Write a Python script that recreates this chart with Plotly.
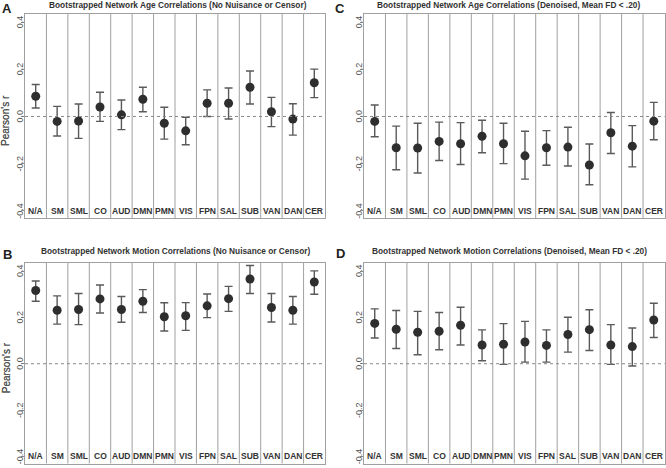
import plotly.graph_objects as go

categories = ["N/A", "SM", "SML", "CO", "AUD", "DMN", "PMN", "VIS", "FPN", "SAL", "SUB", "VAN", "DAN", "CER"]

# Panel A: Age correlations (No Nuisance or Censor)
a_val = [0.086, -0.021, -0.019, 0.040, 0.007, 0.073, -0.029, -0.061, 0.056, 0.056, 0.124, 0.020, -0.011, 0.143]
a_hi  = [0.136, 0.043, 0.053, 0.103, 0.070, 0.124, 0.039, -0.003, 0.113, 0.121, 0.193, 0.081, 0.054, 0.201]
a_lo  = [0.036, -0.083, -0.093, -0.021, -0.056, 0.020, -0.096, -0.120, 0.000, -0.011, 0.053, -0.043, -0.079, 0.080]

# Panel C: Age correlations (Denoised, Mean FD < .20)
c_val = [-0.021, -0.133, -0.134, -0.106, -0.116, -0.084, -0.116, -0.167, -0.133, -0.130, -0.206, -0.069, -0.126, -0.020]
c_hi  = [0.049, -0.041, -0.029, -0.024, -0.026, -0.016, -0.029, -0.063, -0.060, -0.046, -0.117, 0.017, -0.039, 0.060]
c_lo  = [-0.086, -0.226, -0.240, -0.187, -0.204, -0.154, -0.200, -0.266, -0.207, -0.210, -0.290, -0.157, -0.214, -0.099]

# Panel B: Motion correlations (No Nuisance or Censor)
b_val = [0.316, 0.231, 0.234, 0.280, 0.234, 0.270, 0.203, 0.207, 0.250, 0.281, 0.366, 0.243, 0.231, 0.353]
b_hi  = [0.357, 0.293, 0.303, 0.340, 0.290, 0.320, 0.263, 0.264, 0.301, 0.334, 0.424, 0.303, 0.290, 0.401]
b_lo  = [0.270, 0.171, 0.169, 0.219, 0.179, 0.221, 0.141, 0.144, 0.199, 0.226, 0.303, 0.180, 0.171, 0.300]

# Panel D: Motion correlations (Denoised, Mean FD < .20)
d_val = [0.174, 0.149, 0.136, 0.140, 0.166, 0.081, 0.084, 0.094, 0.079, 0.126, 0.147, 0.081, 0.074, 0.189]
d_hi  = [0.237, 0.230, 0.226, 0.221, 0.244, 0.146, 0.173, 0.183, 0.146, 0.201, 0.233, 0.169, 0.154, 0.261]
d_lo  = [0.111, 0.066, 0.039, 0.060, 0.081, 0.013, -0.003, 0.007, 0.007, 0.050, 0.057, -0.003, -0.010, 0.113]

titles = {
    "A": "Bootstrapped Network Age Correlations (No Nuisance or Censor)",
    "C": "Bootstrapped Network Age Correlations (Denoised, Mean FD < .20)",
    "B": "Bootstrapped Network Motion Correlations (No Nuisance or Censor)",
    "D": "Bootstrapped Network Motion Correlations (Denoised, Mean FD < .20)",
}

y_ticks = [-0.4, -0.2, 0.0, 0.2, 0.4]
y_ticktext = ["-0.4", "-0.2", "0.0", "0.2", "0.4"]

W, H = 666, 468
FONT = "Liberation Sans, Arial, sans-serif"
BOX = "#a0a0a0"


def px(x):
    return x / W


def py(y):
    return 1 - y / H


# (letter, values, hi, lo, axis id, x span px, y span px, title x, title y, letter x, letter y)
panels = [
    ("A", a_val, a_hi, a_lo, "", (25, 325), (14, 218), 178, 5, 7, 8),
    ("C", c_val, c_hi, c_lo, "2", (364, 664.5), (14, 218), 508, 5, 340, 8),
    ("B", b_val, b_hi, b_lo, "3", (25, 325), (263, 463.5), 175, 251, 7, 255),
    ("D", d_val, d_hi, d_lo, "4", (364, 664.5), (263, 463.5), 510, 251, 341, 254),
]

xpos = list(range(1, len(categories) + 1))

fig = go.Figure()
annotations = []
shapes = []

for letter, val, hi, lo, ax, (x0, x1), (y0, y1), tx, ty, lx, ly in panels:
    xa = "x" + ax
    ya = "y" + ax
    fig.add_trace(go.Scatter(
        x=xpos, y=val, mode="markers",
        xaxis=xa, yaxis=ya,
        marker=dict(color="#2e2e2e", size=9),
        error_y=dict(type="data", symmetric=False,
                     array=[h - v for h, v in zip(hi, val)],
                     arrayminus=[v - l for v, l in zip(val, lo)],
                     color="#5a5a5a", thickness=1.4, width=4),
        showlegend=False, hoverinfo="skip",
    ))
    fig.layout["xaxis" + ax] = dict(
        domain=[px(x0), px(x1)], range=[0.5, len(categories) + 0.5], showticklabels=False,
        ticks="", showgrid=False, zeroline=False, showline=True, mirror=True,
        linecolor=BOX, linewidth=1, anchor=ya, fixedrange=True,
    )
    fig.layout["yaxis" + ax] = dict(
        domain=[py(y1), py(y0)], range=[-0.431, 0.435], tickvals=y_ticks,
        showticklabels=False, ticks="outside", ticklen=3, tickcolor="#888",
        showgrid=False, zeroline=False, showline=True, mirror=True,
        linecolor=BOX, linewidth=1, anchor=xa, fixedrange=True,
    )
    # rotated y tick labels placed right next to the tick marks
    for tv, tt in zip(y_ticks, y_ticktext):
        annotations.append(dict(x=px(x0 - 5), y=tv, xref="paper", yref=ya, text=tt,
                                showarrow=False, textangle=-90,
                                xanchor="center", yanchor="middle",
                                font=dict(family=FONT, size=9, color="#555")))
    # column dividers
    for i in range(1, len(categories)):
        shapes.append(dict(type="line", xref=xa, yref=ya + " domain",
                           x0=i + 0.5, x1=i + 0.5, y0=0, y1=1,
                           line=dict(color=BOX, width=1)))
    # dotted zero line
    shapes.append(dict(type="line", xref=xa + " domain", yref=ya,
                       x0=0, x1=1, y0=0, y1=0,
                       line=dict(color="#888", width=1, dash="dot")))
    # category labels
    for xp, c in zip(xpos, categories):
        annotations.append(dict(x=xp, y=-0.4, xref=xa, yref=ya, text="<b>" + c + "</b>",
                                showarrow=False, xanchor="center", yanchor="middle",
                                font=dict(family=FONT, size=8.5, color="#333")))
    # title
    annotations.append(dict(x=px(tx), y=py(ty), xref="paper", yref="paper",
                            text="<b>" + titles[letter] + "</b>", showarrow=False,
                            xanchor="center", yanchor="middle",
                            font=dict(family=FONT, size=8.3, color="#333")))
    # panel letter
    annotations.append(dict(x=px(lx), y=py(ly), xref="paper", yref="paper",
                            text="<b>" + letter + "</b>", showarrow=False,
                            xanchor="center", yanchor="middle",
                            font=dict(family=FONT, size=13, color="#222")))
    # y-axis label
    annotations.append(dict(x=px(6), y=py((y0 + y1) / 2 + 5), xref="paper", yref="paper",
                            text="Pearson's r", showarrow=False, textangle=-90,
                            xanchor="center", yanchor="middle",
                            font=dict(family=FONT, size=10, color="#555")))

fig.update_layout(
    width=W, height=H, margin=dict(l=0, r=0, t=0, b=0),
    paper_bgcolor="white", plot_bgcolor="white",
    annotations=annotations, shapes=shapes,
)

# remove the default 8px page margin so the 666x468 figure fills the window
fig.write_html("out.html", config={"displayModeBar": False, "staticPlot": True},
               post_script="document.body.style.margin='0px';")
